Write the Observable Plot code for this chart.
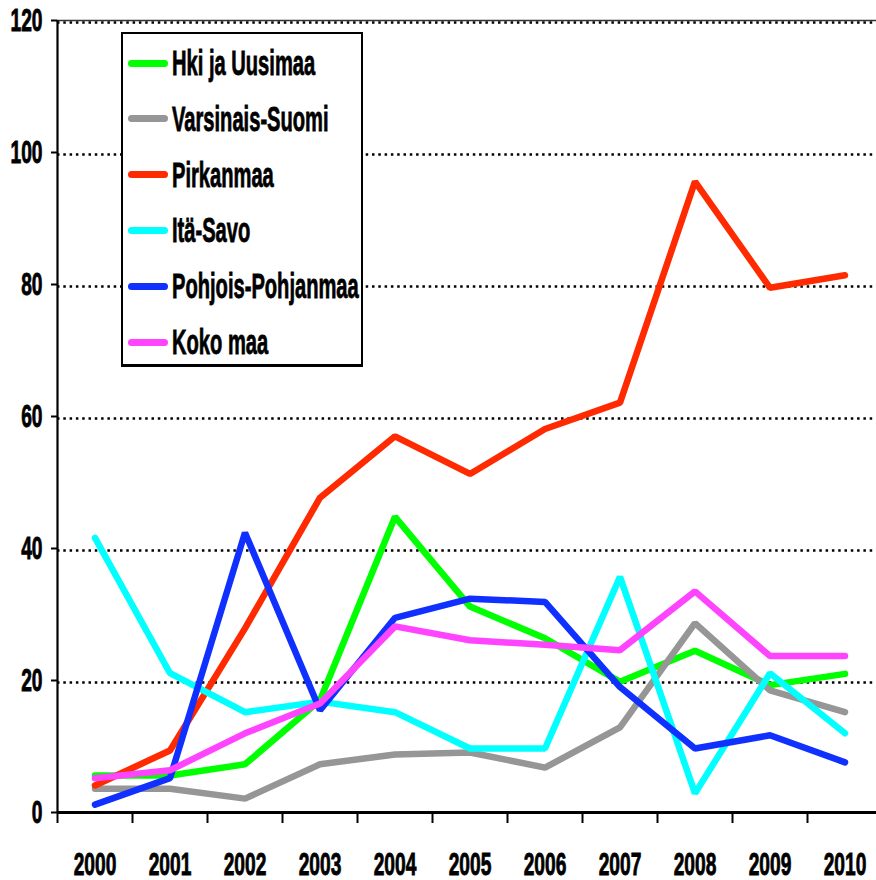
<!DOCTYPE html>
<html>
<head>
<meta charset="utf-8">
<script src="https://cdn.jsdelivr.net/npm/d3@7"></script>
<script src="https://cdn.jsdelivr.net/npm/@observablehq/plot@0.6"></script>
<style>
  html, body { margin: 0; padding: 0; background: #fff; }
  #wrap { position: relative; width: 876px; height: 880px; overflow: hidden; }
  #legend {
    position: absolute; left: 121px; top: 32px; width: 238px; height: 330px;
    border: 2px solid #000; border-bottom-width: 3px; background: #fff; box-sizing: content-box;
  }
  .row { position: absolute; left: 0; height: 40px; display: flex; align-items: center; }
  .sw { position: absolute; left: 5px; width: 40px; height: 7px; border-radius: 3.5px; }
  .lab {
    position: absolute; left: 49px; white-space: nowrap;
    font-family: "Liberation Sans", Arial, sans-serif; font-weight: bold; font-size: 35px; line-height: 40px;
    -webkit-text-stroke: 0.8px #000;
    transform: scaleX(0.575); transform-origin: 0 50%; color: #000;
  }
</style>
</head>
<body>
<div id="wrap"><div id="chart"></div><div id="legend"></div></div>
<script>
const years = [2000, 2001, 2002, 2003, 2004, 2005, 2006, 2007, 2008, 2009, 2010];
const seriesNames = ["Hki ja Uusimaa", "Varsinais-Suomi", "Pirkanmaa", "Itä-Savo", "Pohjois-Pohjanmaa", "Koko maa"];
const seriesColors = ["#00ff00", "#969696", "#ff2a00", "#00ffff", "#1030ff", "#ff44ff"];
const hkiUusimaa       = [5.6, 5.6, 7.3, 17.0, 44.8, 31.2, 26.4, 19.8, 24.5, 19.3, 21.0];
const varsinaisSuomi   = [3.6, 3.6, 2.1, 7.3, 8.8, 9.1, 6.8, 12.9, 28.7, 18.5, 15.2];
const pirkanmaa        = [4.1, 9.4, 27.9, 47.7, 57.0, 51.3, 58.1, 62.1, 95.6, 79.5, 81.4];
const itaSavo          = [41.6, 21.1, 15.2, 16.8, 15.2, 9.7, 9.7, 35.7, 2.9, 21.1, 12.0];
const pohjoisPohjanmaa = [1.2, 5.2, 42.4, 15.5, 29.5, 32.4, 31.9, 19.0, 9.7, 11.7, 7.6];
const kokoMaa          = [5.2, 6.4, 12.0, 16.5, 28.2, 26.1, 25.4, 24.6, 33.5, 23.7, 23.7];
const yTicks = [0, 20, 40, 60, 80, 100, 120];

const seriesValues = [hkiUusimaa, varsinaisSuomi, pirkanmaa, itaSavo, pohjoisPohjanmaa, kokoMaa];
const data = seriesNames.flatMap((name, s) =>
  years.map((year, i) => ({series: name, year, value: seriesValues[s][i]})));
const bounds = years.map(y => y - 0.5).concat([years[years.length - 1] + 0.5]);

const chart = Plot.plot({
  width: 876, height: 880,
  marginTop: 20, marginBottom: 68, marginLeft: 57, marginRight: 0,
  style: {fontFamily: "'Liberation Sans', Arial, sans-serif", fontWeight: "bold", fontSize: "32px", color: "#000", background: "#fff", overflow: "visible"},
  x: {type: "linear", domain: [bounds[0], bounds[bounds.length - 1]], range: [57, 882], label: null},
  y: {domain: [0, 120], label: null},
  color: {domain: seriesNames, range: seriesColors},
  marks: [
    Plot.ruleY(yTicks.filter(d => d > 0), {stroke: "#000", strokeOpacity: 1, strokeWidth: 2.5, strokeDasharray: "2.5,3.8", dy: 2}),
    Plot.ruleY([120], {stroke: "#333", strokeWidth: 1.5}),
    Plot.line(data, {x: "year", y: "value", z: "series", stroke: "series", strokeWidth: 6.5, strokeLinecap: "round", strokeLinejoin: "miter"}),
    Plot.ruleX([bounds[0]], {y1: 0, y2: 120, stroke: "#000", strokeWidth: 2.2}),
    Plot.ruleY([0], {stroke: "#000", strokeWidth: 3}),
    Plot.axisY(yTicks, {label: null, tickSize: 6, tickPadding: 9, strokeWidth: 2, fontSize: 32, fontWeight: "bold"}),
    Plot.axisX(bounds, {label: null, tickSize: 11, strokeWidth: 2, tickFormat: () => ""}),
    Plot.axisX(years, {label: null, tickSize: 0, tickPadding: 40, fontSize: 32, fontWeight: "bold", tickFormat: d => String(d)})
  ]
});
chart.querySelectorAll("text").forEach(t => {
  const tr = t.getAttribute("transform");
  if (tr) t.setAttribute("transform", tr + " scale(0.6,1)");
  t.setAttribute("stroke", "#000");
  t.setAttribute("stroke-width", "0.9");
});
document.getElementById("chart").appendChild(chart);

const legend = document.getElementById("legend");
seriesNames.forEach((name, i) => {
  const row = document.createElement("div");
  row.className = "row";
  row.style.top = (29 - 20 + i * 55.8) + "px";
  const sw = document.createElement("div");
  sw.className = "sw";
  sw.style.background = seriesColors[i];
  sw.style.top = "16.5px";
  const lab = document.createElement("div");
  lab.className = "lab";
  lab.textContent = name;
  row.appendChild(sw);
  row.appendChild(lab);
  legend.appendChild(row);
});
</script>
</body>
</html>
